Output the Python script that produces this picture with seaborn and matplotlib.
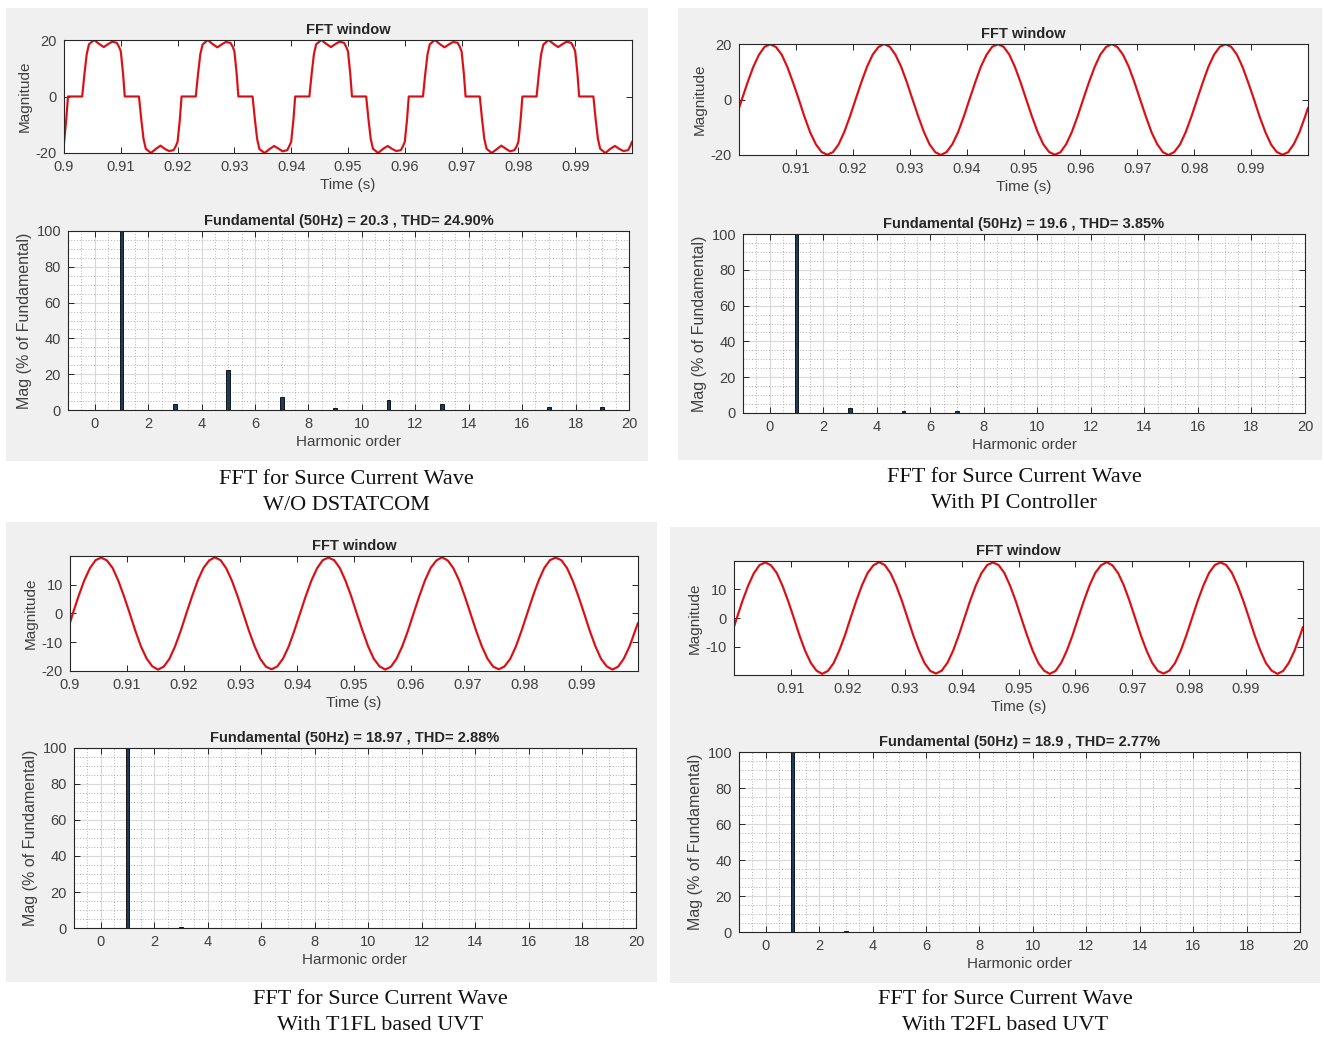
import numpy as np
import pandas as pd
import matplotlib
matplotlib.use("Agg")
import matplotlib.pyplot as plt
import seaborn as sns
from matplotlib.patches import Rectangle
from matplotlib.ticker import MultipleLocator, FixedLocator

sns.set_style("white")
plt.rcParams['font.family'] = ['Liberation Sans', 'DejaVu Sans']

# ---------------- data ----------------
# Panel 1 (W/O DSTATCOM): distorted source current, times in ms after 0.9 s
wave1_ms = [
    0.0, 0.4, 0.7, 3.2, 3.6, 4.0, 4.4, 5.3, 6.2, 7.0, 7.8, 8.5, 9.3, 9.7, 10.0, 10.4, 10.7, 13.2, 13.6, 14.0, 14.4, 15.3, 16.2, 17.0, 17.8, 18.5, 19.3, 19.7,
    20.0, 20.4, 20.7, 23.2, 23.6, 24.0, 24.4, 25.3, 26.2, 27.0, 27.8, 28.5, 29.3, 29.7, 30.0, 30.4, 30.7, 33.2, 33.6, 34.0, 34.4, 35.3, 36.2, 37.0, 37.8, 38.5, 39.3, 39.7,
    40.0, 40.4, 40.7, 43.2, 43.6, 44.0, 44.4, 45.3, 46.2, 47.0, 47.8, 48.5, 49.3, 49.7, 50.0, 50.4, 50.7, 53.2, 53.6, 54.0, 54.4, 55.3, 56.2, 57.0, 57.8, 58.5, 59.3, 59.7,
    60.0, 60.4, 60.7, 63.2, 63.6, 64.0, 64.4, 65.3, 66.2, 67.0, 67.8, 68.5, 69.3, 69.7, 70.0, 70.4, 70.7, 73.2, 73.6, 74.0, 74.4, 75.3, 76.2, 77.0, 77.8, 78.5, 79.3, 79.7,
    80.0, 80.4, 80.7, 83.2, 83.6, 84.0, 84.4, 85.3, 86.2, 87.0, 87.8, 88.5, 89.3, 89.7, 90.0, 90.4, 90.7, 93.2, 93.6, 94.0, 94.4, 95.3, 96.2, 97.0, 97.8, 98.5, 99.3, 99.7,
    100.0]
wave1_val = [
    -16.5, -8, 0, 0, 8, 15, 18.5, 20.0, 18.6, 17.5, 18.6, 19.4, 19.0, 17.5, 16, 8, 0, 0, -8, -15, -18.5, -20.0, -18.5, -17.4, -18.6, -19.3, -19.0, -17.5,
    -16.0, -8, 0, 0, 8, 15, 18.4, 20.0, 18.5, 17.4, 18.5, 19.3, 19.0, 17.6, 16, 8, 0, 0, -8, -15, -18.6, -20.0, -18.6, -17.5, -18.5, -19.4, -19.0, -17.4,
    -16.0, -8, 0, 0, 8, 15, 18.5, 20.0, 18.6, 17.5, 18.6, 19.4, 19.0, 17.5, 16, 8, 0, 0, -8, -15, -18.5, -20.0, -18.5, -17.5, -18.6, -19.3, -19.0, -17.5,
    -16.0, -8, 0, 0, 8, 15, 18.5, 20.0, 18.5, 17.4, 18.5, 19.3, 19.0, 17.5, 16, 8, 0, 0, -8, -15, -18.5, -20.0, -18.6, -17.4, -18.5, -19.4, -19.0, -17.6,
    -16.0, -8, 0, 0, 8, 15, 18.4, 20.0, 18.6, 17.5, 18.6, 19.4, 19.0, 17.5, 16, 8, 0, 0, -8, -15, -18.5, -20.0, -18.5, -17.5, -18.6, -19.3, -19.0, -17.5,
    -16.0]

# Sine-like panels: samples every 1 ms (offset 0.5 ms) plus both window ends
sine_ms = [0.0] + [0.5 + k for k in range(100)] + [100.0]
wave2_val = [-3.1,
    0.0, 6.1, 11.7, 16.1, 19.0, 19.9, 18.9, 16.2, 11.7, 6.1, 0.1, -6.2, -11.8, -16.1, -18.9, -19.9, -19.0, -16.2, -11.7, -6.1,
    0.1, 6.2, 11.8, 16.2, 18.9, 20.0, 19.0, 16.1, 11.8, 6.2, 0.0, -6.1, -11.7, -16.2, -19.0, -20.0, -18.9, -16.1, -11.8, -6.2,
    0.0, 6.1, 11.8, 16.1, 19.0, 19.9, 19.0, 16.2, 11.7, 6.1, -0.1, -6.2, -11.8, -16.2, -18.9, -19.9, -19.0, -16.1, -11.7, -6.1,
    0.1, 6.2, 11.7, 16.2, 18.9, 20.0, 18.9, 16.1, 11.8, 6.2, 0.0, -6.1, -11.8, -16.1, -19.0, -20.0, -18.9, -16.2, -11.8, -6.2,
    0.0, 6.1, 11.8, 16.2, 19.0, 19.9, 19.0, 16.2, 11.7, 6.1, 0.1, -6.2, -11.7, -16.2, -18.9, -19.9, -19.0, -16.1, -11.8, -6.1,
    -3.0]
wave3_val = [-3.2,
    0.0, 6.0, 11.4, 15.7, 18.5, 19.4, 18.4, 15.8, 11.4, 6.0, 0.1, -6.0, -11.5, -15.7, -18.4, -19.5, -18.5, -15.8, -11.4, -6.0,
    0.1, 6.0, 11.5, 15.8, 18.4, 19.5, 18.5, 15.7, 11.4, 6.0, 0.0, -6.0, -11.4, -15.8, -18.5, -19.4, -18.4, -15.7, -11.5, -6.0,
    0.0, 6.0, 11.4, 15.7, 18.5, 19.4, 18.5, 15.8, 11.4, 6.0, -0.1, -6.0, -11.5, -15.8, -18.4, -19.5, -18.5, -15.7, -11.4, -6.0,
    0.1, 6.0, 11.5, 15.8, 18.4, 19.5, 18.4, 15.7, 11.5, 6.0, 0.0, -6.0, -11.4, -15.7, -18.5, -19.4, -18.4, -15.8, -11.5, -6.0,
    0.0, 6.0, 11.4, 15.8, 18.5, 19.4, 18.5, 15.8, 11.4, 6.0, 0.1, -6.0, -11.4, -15.8, -18.4, -19.5, -18.5, -15.7, -11.5, -6.0,
    -3.3]
wave4_val = [-3.0,
    0.0, 6.0, 11.3, 15.6, 18.4, 19.3, 18.3, 15.7, 11.3, 6.0, 0.1, -6.0, -11.4, -15.6, -18.3, -19.4, -18.4, -15.7, -11.3, -6.0,
    0.1, 6.0, 11.4, 15.7, 18.3, 19.4, 18.4, 15.6, 11.3, 6.0, 0.0, -6.0, -11.3, -15.7, -18.4, -19.3, -18.3, -15.6, -11.4, -6.0,
    0.0, 6.0, 11.3, 15.6, 18.4, 19.3, 18.4, 15.7, 11.3, 6.0, -0.1, -6.0, -11.4, -15.7, -18.3, -19.4, -18.4, -15.6, -11.3, -6.0,
    0.1, 6.0, 11.4, 15.7, 18.3, 19.4, 18.3, 15.6, 11.4, 6.0, 0.0, -6.0, -11.3, -15.6, -18.4, -19.3, -18.3, -15.7, -11.4, -6.0,
    0.0, 6.0, 11.3, 15.7, 18.4, 19.3, 18.4, 15.7, 11.3, 6.0, 0.1, -6.0, -11.3, -15.7, -18.3, -19.4, -18.4, -15.6, -11.4, -6.0,
    -3.1]

# Harmonic spectra (% of fundamental)
harm1_order = [1, 3, 5, 7, 9, 11, 13, 17, 19]
harm1_mag = [100, 3.4, 22.1, 7.4, 0.9, 5.6, 3.5, 1.7, 1.7]
harm2_order = [1, 3, 5, 7]
harm2_mag = [100, 3.0, 0.9, 0.9]
harm3_order = [1, 3]
harm3_mag = [100, 0.5]
harm4_order = [1, 3]
harm4_mag = [100, 0.6]

bar_titles = ["Fundamental (50Hz) = 20.3 , THD= 24.90%",
              "Fundamental (50Hz) = 19.6 , THD= 3.85%",
              "Fundamental (50Hz) = 18.97 , THD= 2.88%",
              "Fundamental (50Hz) = 18.9 , THD= 2.77%"]
captions = ["FFT for Surce Current Wave\nW/O DSTATCOM",
            "FFT for Surce Current Wave\nWith PI Controller",
            "FFT for Surce Current Wave\nWith T1FL based UVT",
            "FFT for Surce Current Wave\nWith T2FL based UVT"]

time_ticks_full = [0.90, 0.91, 0.92, 0.93, 0.94, 0.95, 0.96, 0.97, 0.98, 0.99]
time_ticks_short = [0.91, 0.92, 0.93, 0.94, 0.95, 0.96, 0.97, 0.98, 0.99]

# ---------------- layout ----------------
W, H = 1324, 1039
fig = plt.figure(figsize=(W / 100, H / 100), dpi=100)
fig.patch.set_facecolor('white')

def frect(x0, y0, x1, y1):
    return [x0 / W, 1 - y1 / H, (x1 - x0) / W, (y1 - y0) / H]

for (x0, y0, x1, y1) in [(6, 8, 648, 461), (678, 8, 1322, 460), (6, 522, 657, 982), (670, 527, 1320, 983)]:
    fig.add_artist(Rectangle((x0 / W, 1 - y1 / H), (x1 - x0) / W, (y1 - y0) / H,
                             transform=fig.transFigure, facecolor='#f0f0f0',
                             edgecolor='none', zorder=-5))

TXT = '#262626'
LBL = '#404040'

def style_axes(ax):
    ax.set_facecolor('white')
    for s in ax.spines.values():
        s.set_color(TXT)
        s.set_linewidth(0.8)
        s.set_visible(True)
    ax.tick_params(which='major', direction='in', length=4, width=0.7, color=TXT,
                   top=True, right=True, bottom=True, left=True,
                   labelsize=10.5, labelcolor=LBL, pad=5)

def draw_wave(rect, ms, vals, ylim, yticks, xticks):
    ax = fig.add_axes(frect(*rect))
    df = pd.DataFrame({'t': 0.9 + np.array(ms) / 1000.0, 'v': vals})
    sns.lineplot(data=df, x='t', y='v', ax=ax, color='#e8161b', lw=1.6,
                 estimator=None, sort=False)
    sns.lineplot(data=df, x='t', y='v', ax=ax, color='#7a0a0a', lw=0.4,
                 estimator=None, sort=False, alpha=0.45)
    ax.set_xlim(0.9, 1.0)
    ax.set_ylim(*ylim)
    ax.xaxis.set_major_locator(FixedLocator(xticks))
    ax.set_xticklabels(['%g' % v for v in xticks])
    ax.yaxis.set_major_locator(FixedLocator(yticks))
    ax.set_yticklabels(['%g' % v for v in yticks])
    style_axes(ax)
    ax.set_title('FFT window', fontsize=10.5, fontweight='bold', color=TXT, pad=4)
    ax.set_xlabel('Time (s)', fontsize=11, color=LBL, labelpad=3)
    ax.set_ylabel('Magnitude', fontsize=11, color=LBL, labelpad=3)
    return ax

def draw_bars(rect, orders, mags, title):
    ax = fig.add_axes(frect(*rect))
    df = pd.DataFrame({'h': orders, 'm': mags})
    sns.barplot(data=df, x='h', y='m', ax=ax, native_scale=True, width=0.07,
                color='#1d3a5f', edgecolor='black', linewidth=0.6,
                errorbar=None, saturation=1)
    ax.set_xlim(-1, 20)
    ax.set_ylim(0, 100)
    ax.xaxis.set_major_locator(MultipleLocator(2))
    ax.yaxis.set_major_locator(MultipleLocator(20))
    ax.xaxis.set_minor_locator(MultipleLocator(0.5))
    ax.yaxis.set_minor_locator(MultipleLocator(5))
    ax.set_axisbelow(True)
    ax.grid(which='major', color='#d9d9d9', lw=0.8, ls='-')
    ax.grid(which='minor', color='#a8a8a8', lw=0.6, ls=(0, (1.2, 2.2)))
    style_axes(ax)
    ax.tick_params(which='minor', length=0)
    ax.set_title(title, fontsize=10.5, fontweight='bold', color=TXT, pad=4)
    ax.set_xlabel('Harmonic order', fontsize=11, color=LBL, labelpad=3)
    ax.set_ylabel('Mag (% of Fundamental)', fontsize=11.5, color=LBL, labelpad=3)
    return ax

# Panel 1
draw_wave((64, 40, 632, 153), wave1_ms, wave1_val, (-20, 20), [-20, 0, 20], time_ticks_full)
draw_bars((68, 231, 629, 410), harm1_order, harm1_mag, bar_titles[0])
# Panel 2
draw_wave((739, 44, 1308, 155), sine_ms, wave2_val, (-20, 20), [-20, 0, 20], time_ticks_short)
draw_bars((743, 234, 1305, 413), harm2_order, harm2_mag, bar_titles[1])
# Panel 3
draw_wave((70, 556, 638, 671), sine_ms, wave3_val, (-20, 19.95), [-20, -10, 0, 10], time_ticks_full)
draw_bars((74, 748, 636, 928), harm3_order, harm3_mag, bar_titles[2])
# Panel 4
draw_wave((734, 561, 1303, 675), sine_ms, wave4_val, (-19.8, 19.8), [-10, 0, 10], time_ticks_short)
draw_bars((739, 752, 1300, 932), harm4_order, harm4_mag, bar_titles[3])

# Captions
for (cx, cy), cap in zip([(346, 493), (1014, 490), (380, 1013), (1005, 1013)], captions):
    fig.text(cx / W, 1 - cy / H, cap, ha='center', va='center',
             fontfamily='Liberation Serif', fontsize=16, color='#111111',
             linespacing=1.5)

fig.savefig('out.png', dpi=100, facecolor='white')
